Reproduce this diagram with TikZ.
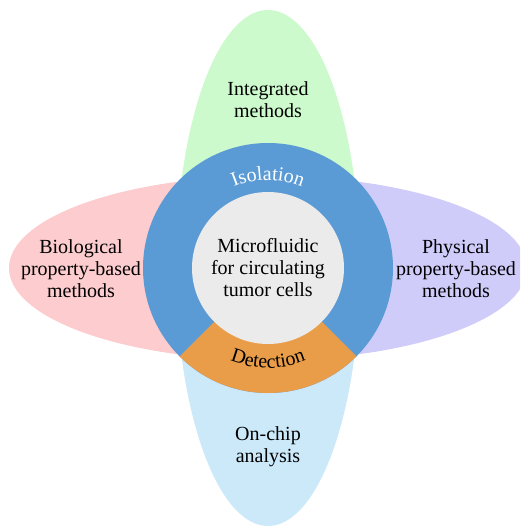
\documentclass[tikz,border=0pt]{standalone}
\usepackage{fontspec}
\setmainfont{Liberation Serif}
\usepackage{tikz}
\usetikzlibrary{decorations.text}

\definecolor{petalgreen}{RGB}{204,250,204}
\definecolor{petalpink}{RGB}{253,204,206}
\definecolor{petalpurple}{RGB}{208,204,250}
\definecolor{petalblue}{RGB}{204,233,250}
\definecolor{ringblue}{RGB}{91,155,213}
\definecolor{ringorange}{RGB}{234,157,72}
\definecolor{coregray}{RGB}{235,235,235}

\begin{document}
\begin{tikzpicture}[x=1pt,y=1pt]
	\tikzset{petaltext/.style = {align=center, font=\fontsize{20}{22}\selectfont, text=black}}
	\tikzset{ringtext/.style = {decorate, decoration={text along path, text align=center, #1}}}
	\useasboundingbox (-268,-259) rectangle (252,268);
	
	% petals
	\begin{scope}
		\clip (-268,-259) rectangle (252,0);
		\fill[petalblue] (0,0) ellipse (92pt and 258pt);
	\end{scope}
	\begin{scope}
		\clip (-268,0) rectangle (252,268);
		\fill[petalgreen] (0,0) ellipse (92pt and 258pt);
	\end{scope}
	\begin{scope}
		\clip (-268,-259) rectangle (0,268);
		\fill[petalpink] (0,0) ellipse (259pt and 92pt);
	\end{scope}
	\begin{scope}
		\clip (0,-259) rectangle (252,268);
		\fill[petalpurple] (0,0) ellipse (259pt and 92pt);
	\end{scope}
	
	% ring
	\fill[ringblue] (0,0) circle (125pt);
	\fill[ringorange] (0,0) -- (225:125pt) arc[start angle=225, end angle=315, radius=125pt] -- cycle;
	\fill[coregray] (0,0) circle (76pt);
	
	%%%%%%%%%%%%%%%%%%%%%%%%%%%%%%
	
	\node[petaltext] (core) at (0,0) {Microfluidic\\for circulating\\tumor cells};
	\node[petaltext] (integrated) at (0,168) {Integrated\\methods};
	\node[petaltext] (onchip) at (0,-179) {On-chip\\analysis};
	\node[petaltext] (biological) at (-187,-1) {Biological\\property-based\\methods};
	\node[petaltext] (physical) at (188,-1) {Physical\\property-based\\methods};
	
	\path[ringtext={text color=white, text={|\fontsize{20}{22}\selectfont|Isolation}}]
		(125:88pt) arc[start angle=125, end angle=55, radius=88pt];
	\path[ringtext={text color=black, text={|\fontsize{20}{22}\selectfont|Detection}}]
		(233:100pt) arc[start angle=233, end angle=307, radius=100pt];
	
\end{tikzpicture}
\end{document}
